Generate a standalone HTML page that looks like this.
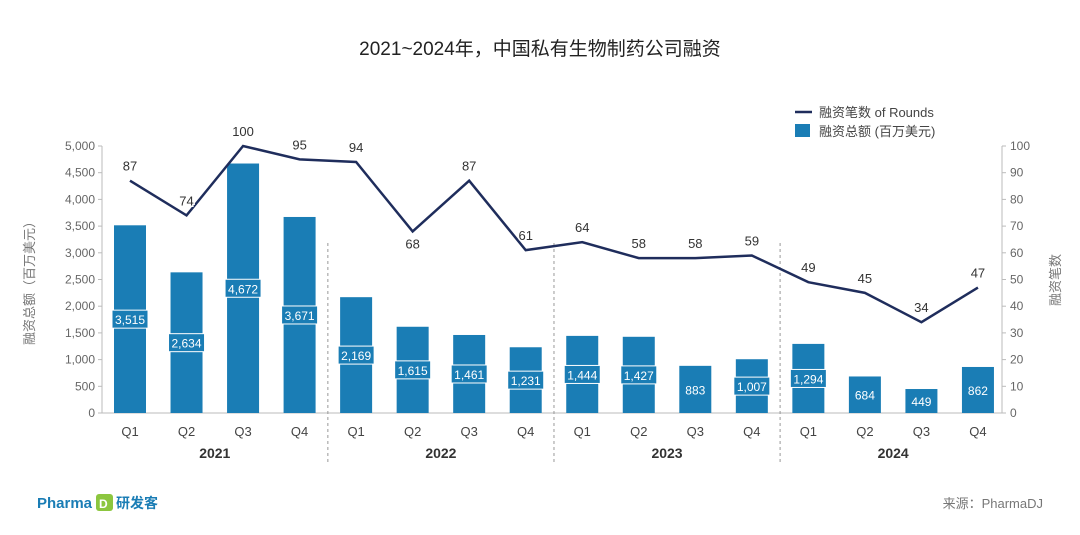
<!DOCTYPE html>
<html><head><meta charset="utf-8"><style>
body{margin:0;background:#fff;}
svg{display:block;font-family:"Liberation Sans","Noto Sans CJK SC",sans-serif;}
</style></head><body>
<svg id="c" width="1080" height="535" viewBox="0 0 1080 535">
<text x="540" y="55" text-anchor="middle" font-size="19" fill="#222">2021~2024年，中国私有生物制药公司融资</text>
<g>
<line x1="795" y1="112" x2="812" y2="112" stroke="#1f2d5c" stroke-width="2.5"/>
<text x="819" y="117" font-size="13" fill="#444">融资笔数 of Rounds</text>
<rect x="795" y="124" width="15" height="13" fill="#1a7db5"/>
<text x="819" y="136" font-size="13" fill="#444">融资总额 (百万美元)</text>
</g>
<text transform="translate(34,280) rotate(-90)" text-anchor="middle" font-size="13" fill="#777">融资总额（百万美元）</text>
<text transform="translate(1060,280) rotate(-90)" text-anchor="middle" font-size="13" fill="#777">融资笔数</text>
<g id="axes"></g><g id="bars"></g><g id="line"></g>
<g>
<text x="37" y="508" font-size="15" font-weight="bold" fill="#1a7db5">Pharma</text>
<rect x="96" y="494" width="17" height="17" rx="3" fill="#8cc63f"/>
<text x="99" y="508" font-size="12" font-weight="bold" fill="#fff">D</text>
<text x="116" y="508" font-size="14" font-weight="bold" fill="#1a7db5">研发客</text>
</g>
<text x="1043" y="508" text-anchor="end" font-size="13" fill="#777">来源：PharmaDJ</text>
</svg>
<script>
const quarters=["Q1","Q2","Q3","Q4","Q1","Q2","Q3","Q4","Q1","Q2","Q3","Q4","Q1","Q2","Q3","Q4"];
const years=["2021","2022","2023","2024"];
const amounts=[3515,2634,4672,3671,2169,1615,1461,1231,1444,1427,883,1007,1294,684,449,862];
const rounds=[87,74,100,95,94,68,87,61,64,58,58,59,49,45,34,47];
const leftTicks=[0,500,1000,1500,2000,2500,3000,3500,4000,4500,5000];
const rightTicks=[0,10,20,30,40,50,60,70,80,90,100];
const NS="http://www.w3.org/2000/svg";
const y0=413,y1=146,x0=102,x1=1002;
const yL=v=>y0-(v/5000)*(y0-y1);
const yR=v=>y0-(v/100)*(y0-y1);
const xC=i=>130+i*56.53;
function mk(t,a,p){const e=document.createElementNS(NS,t);for(const k in a)e.setAttribute(k,a[k]);p.appendChild(e);return e;}
const ax=document.getElementById('axes'),bg=document.getElementById('bars'),lg=document.getElementById('line');
let e=mk('line',{x1:x0,y1:y0,x2:x1,y2:y0,stroke:'#bbb'},ax);


e=mk('line',{x1:x0,y1:y1,x2:x0,y2:y0,stroke:'#bbb'},ax);


e=mk('line',{x1:x1,y1:y1,x2:x1,y2:y0,stroke:'#bbb'},ax);


leftTicks.forEach(v=>{
 mk('line',{x1:x0-4,y1:yL(v),x2:x0,y2:yL(v),stroke:'#bbb'},ax);
 const t=mk('text',{x:x0-7,y:yL(v)+4,'text-anchor':'end','font-size':12,fill:'#666'},ax);t.textContent=v.toLocaleString('en-US');
 
 
});
rightTicks.forEach(v=>{
 mk('line',{x1:x1,y1:yR(v),x2:x1+4,y2:yR(v),stroke:'#bbb'},ax);
 const t=mk('text',{x:x1+8,y:yR(v)+4,'font-size':12,fill:'#666'},ax);t.textContent=v;
 
 
});
quarters.forEach((q,i)=>{
 const t=mk('text',{x:xC(i),y:436,'text-anchor':'middle','font-size':13,fill:'#444'},ax);t.textContent=q;
 
 
});
years.forEach((y,k)=>{
 const t=mk('text',{x:(xC(k*4)+xC(k*4+3))/2,y:458,'text-anchor':'middle','font-size':14,'font-weight':'bold',fill:'#333'},ax);t.textContent=y;
 
 
 if(k>0){const d=mk('line',{x1:(xC(k*4-1)+xC(k*4))/2,y1:243,x2:(xC(k*4-1)+xC(k*4))/2,y2:465,stroke:'#999','stroke-dasharray':'3,3'},ax);
 
 }
});
amounts.forEach((v,i)=>{
 const r=mk('rect',{x:xC(i)-16,y:yL(v),width:32,height:y0-yL(v),fill:'#1a7db5'},bg);
 
 
 const my=(yL(v)+y0)/2,s=v.toLocaleString('en-US');
 if(v>=1000){const b=mk('rect',{x:xC(i)-18,y:my-9,width:36,height:18,fill:'#1a7db5',stroke:'#fff','stroke-width':1},bg);
  
  }
 const t=mk('text',{x:xC(i),y:my+5,'text-anchor':'middle','font-size':12,fill:'#fff'},bg);t.textContent=s;
 
 
});
const p=mk('polyline',{points:rounds.map((v,i)=>xC(i)+','+yR(v)).join(' '),fill:'none',stroke:'#1f2d5c','stroke-width':2.5},lg);


rounds.forEach((v,i)=>{
 const below=(i===5);
 const t=mk('text',{x:xC(i),y:below?yR(v)+17:yR(v)-10,'text-anchor':'middle','font-size':13,fill:'#333',stroke:'#fff','stroke-width':3,'paint-order':'stroke'},lg);t.textContent=v;
 
 
});
</script>
</body></html>
